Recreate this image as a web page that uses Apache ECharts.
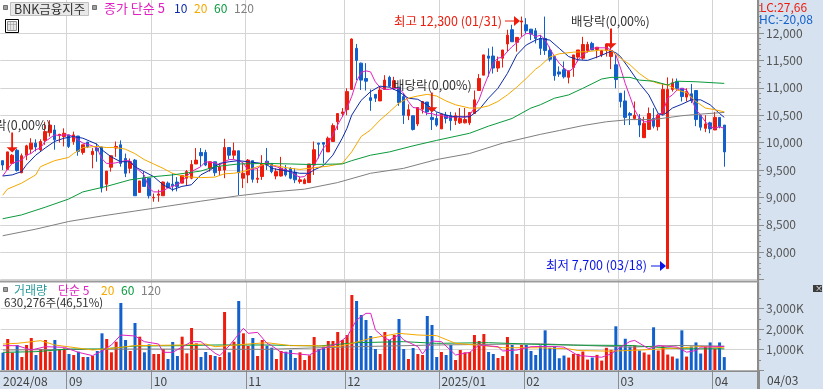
<!DOCTYPE html>
<html>
<head>
<meta charset="utf-8">
<title>BNK금융지주</title>
<style>
html, body { margin: 0; padding: 0; background: #fff; }
#chart { width: 823px; height: 389px; }
</style>
<script src="https://cdn.jsdelivr.net/npm/echarts@6/dist/echarts.min.js"></script>
</head>
<body>
<div id="chart"></div>
<script>
// daily prices (10 rows per line)
var opens = [
 9670,9510,9620,9860,9450,9770,9880,9990,9870,10040,
 10180,10230,10130,10110,10140,10020,10120,9820,10010,9780,
 9900,9920,9240,9550,9900,9960,9710,9530,9680,9090,
 9350,9350,8990,9040,9030,9260,9240,9280,9260,9350,
 9350,9610,9820,9820,9530,9650,9490,9500,9910,9770,
 9850,9350,9410,9670,9330,9380,9660,9620,9390,9390,
 9520,9530,9460,9290,9250,9270,9590,9990,10000,9830,
 10020,10380,10530,10600,10970,11720,11450,11170,10820,10880,
 10760,10970,11190,11000,11010,10840,10490,10490,10340,10610,
 10740,10460,10440,10250,10500,10490,10400,10360,10360,10360,
 10530,10950,11230,11580,11580,11360,11540,11800,12060,11830,
 12200,12150,12070,12040,11900,11900,11680,11570,11290,11330,
 11190,11370,11560,11540,11680,11810,11700,11600,11680,11570,
 11420,10900,10760,10530,10440,10440,10090,10240,10440,10290,
 10530,7700,10970,11110,10990,10830,10890,10950,10500,10260,
 10360,10230,10460,10320
];
var closes = [
 9590,9830,9770,9490,9760,9940,9990,9920,10020,10200,
 10320,10050,10150,10170,9930,10140,9840,9960,9920,9840,
 9850,9170,9480,9760,9930,9620,9440,9650,9030,9300,
 9200,9030,9000,9060,9280,9180,9210,9200,9400,9470,
 9600,9680,9760,9590,9650,9450,9560,9910,9770,9850,
 9450,9440,9680,9330,9350,9610,9590,9470,9470,9530,
 9410,9350,9320,9320,9320,9610,9870,9970,9970,10080,
 10310,10530,10560,10930,11890,11500,11140,11120,10770,10810,
 10960,11140,11030,11130,10730,10500,10600,10240,10640,10750,
 10560,10420,10320,10520,10440,10400,10490,10440,10420,10550,
 10780,11170,11600,11540,11360,11480,11690,11960,11840,11920,
 12220,12040,11980,11900,11720,11680,11520,11220,11250,11200,
 11310,11600,11690,11790,11790,11690,11740,11680,11800,11680,
 11150,10750,10460,10500,10500,10320,10350,10530,10300,10500,
 10970,10970,11090,10990,10840,10930,10770,10420,10280,10340,
 10250,10460,10290,9830
];
var lows = [
 9500,9510,9610,9470,9440,9680,9800,9840,9840,9960,
 10110,9870,10000,9930,9900,9960,9760,9780,9900,9530,
 9650,9090,9120,9470,9740,9560,9370,9440,9030,9090,
 9200,8980,8920,8920,9030,9170,9110,9110,9260,9210,
 9330,9610,9560,9570,9470,9390,9410,9350,9700,9700,
 9040,9170,9260,9270,9260,9320,9500,9440,9330,9380,
 9380,9330,9260,9250,9250,9270,9410,9710,9620,9830,
 10020,10230,10470,10500,10970,11140,10960,10950,10580,10740,
 10760,10960,11010,10960,10670,10340,10410,10220,10300,10530,
 10500,10230,10290,10250,10350,10220,10320,10340,10350,10320,
 10530,10950,11230,11200,11260,11290,11370,11660,11840,11660,
 11930,11990,11870,11810,11600,11600,11480,11130,11200,11170,
 11080,11200,11480,11510,11640,11690,11540,11560,11570,11340,
 10990,10640,10320,10320,10410,10100,10090,10230,10260,10220,
 10500,7700,10930,10950,10750,10750,10720,10300,10220,10190,
 10170,10230,10260,9560
];
var highs = [
 9670,9830,9790,9890,9800,9960,10080,10060,10060,10380,
 10410,10320,10160,10260,10140,10200,10120,9960,10010,9900,
 9980,9920,9480,9760,10020,10040,9800,9710,9700,9300,
 9470,9350,9070,9140,9290,9290,9440,9370,9400,9500,
 9680,9900,9900,9870,9650,9650,9620,10070,9910,10000,
 9850,9620,9700,9670,9530,9770,9900,9620,9530,9740,
 9590,9550,9530,9380,9350,9610,10020,9990,10000,10110,
 10350,10530,10630,10990,11900,11800,11460,11450,10970,10880,
 11030,11230,11220,11200,11010,10900,10700,10490,10640,10750,
 10740,10570,10550,10520,10560,10560,10550,10630,10630,10550,
 10950,11250,11600,11720,11750,11570,11690,12060,12150,11920,
 12300,12270,12070,12090,11960,12300,11750,11570,11390,11480,
 11310,11600,11690,11930,11840,11840,11740,11680,11800,12070,
 11600,10900,10950,10560,10750,10520,10470,10640,10630,10530,
 11080,11190,11170,11170,10990,10990,11070,10950,10500,10500,
 10380,10560,10460,10320
];
var volumes = [
 845,1512,845,1220,634,1220,1560,730,1024,1463,
 894,1463,975,1057,780,730,894,634,634,683,
 927,1790,1512,862,1382,3268,1463,927,2293,1626,
 862,1252,780,780,1024,537,1366,683,1626,813,
 2049,1300,634,878,730,683,634,2829,862,1382,
 3366,1789,1170,1561,683,1463,1187,1089,537,927,
 894,976,585,862,488,715,1610,1024,1138,1415,
 1415,1854,1463,1707,3659,3366,2683,2439,1659,1024,
 780,1854,1463,1707,2488,1024,537,1073,780,732,
 2634,2195,634,878,732,1220,488,976,862,878,
 1707,1415,1756,878,780,585,683,1610,1220,780,
 1220,1220,927,732,1197,1935,1082,1148,574,705,
 607,787,787,902,508,607,738,459,1082,984,
 2132,1148,1525,1148,1197,951,853,754,2083,951,
 1164,754,656,558,1935,656,1148,1345,804,1148,
 1345,1033,1345,630
];

// moving average vertices: [bar index, value]
var ma5 = [[0,9390],[1,9510],[2,9620],[3,9650],[4,9680],[5,9770],[6,9800],[7,9870],[8,9900],[9,10020],[10,10080],[11,10140],[12,10130],[13,10140],[14,10140],[15,10110],[16,10050],[17,9990],[18,9970],[19,9940],[20,9900],[21,9710],[22,9620],[23,9620],[24,9630],[25,9650],[26,9670],[27,9670],[28,9560],[30,9410],[31,9170],[32,9100],[33,9100],[34,9120],[35,9170],[37,9230],[38,9290],[40,9470],[42,9560],[43,9650],[44,9640],[45,9630],[46,9590],[47,9650],[48,9690],[49,9690],[50,9670],[51,9630],[52,9500],[53,9510],[54,9530],[55,9590],[56,9650],[57,9580],[58,9560],[59,9530],[61,9470],[62,9410],[63,9370],[64,9380],[65,9470],[66,9580],[67,9740],[68,9900],[69,9990],[70,10140],[71,10320],[72,10470],[73,10630],[74,10840],[75,11110],[76,11280],[77,11310],[78,11290],[79,11110],[80,11010],[81,10970],[82,10970],[83,10990],[84,10990],[85,10900],[86,10750],[87,10640],[88,10630],[89,10580],[90,10530],[91,10530],[92,10500],[93,10500],[94,10470],[95,10460],[96,10470],[97,10470],[98,10460],[99,10500],[100,10630],[101,10780],[102,11020],[103,11230],[104,11450],[105,11540],[106,11560],[107,11660],[108,11750],[109,11820],[110,11930],[111,11990],[112,11990],[113,11930],[114,11960],[115,11880],[116,11720],[117,11570],[118,11450],[119,11360],[120,11290],[121,11360],[122,11510],[123,11600],[124,11660],[125,11720],[126,11730],[128,11730],[129,11690],[130,11600],[131,11360],[132,11080],[133,10840],[134,10600],[135,10440],[136,10380],[137,10380],[138,10410],[139,10500],[140,10560],[141,10810],[142,10870],[143,10960],[144,10990],[145,10960],[146,10810],[147,10600],[148,10500],[149,10380],[150,10290],[151,10260],[152,10290],[153,10260]];
var ma10 = [[0,9390],[2,9410],[4,9470],[5,9590],[7,9770],[9,9900],[11,10020],[13,10080],[15,10110],[17,10080],[20,9970],[21,9870],[23,9740],[25,9650],[27,9650],[28,9560],[30,9470],[32,9380],[34,9230],[36,9140],[38,9200],[40,9230],[42,9410],[44,9500],[46,9620],[48,9650],[50,9670],[52,9650],[55,9620],[56,9600],[57,9530],[59,9500],[61,9470],[63,9440],[65,9440],[66,9500],[68,9580],[70,9770],[72,10080],[73,10260],[74,10500],[76,10770],[78,10930],[80,11030],[82,11010],[84,10930],[86,10810],[88,10790],[90,10690],[92,10560],[94,10500],[96,10470],[99,10470],[101,10600],[103,10810],[105,10990],[107,11260],[109,11600],[111,11780],[113,11870],[114,11900],[116,11870],[118,11720],[120,11570],[122,11510],[124,11500],[126,11560],[128,11630],[129,11670],[130,11640],[131,11570],[133,11330],[135,11080],[137,10870],[139,10530],[140,10500],[141,10560],[142,10630],[144,10700],[146,10780],[148,10780],[150,10690],[152,10530],[153,10460]];
var ma20 = [[0,9040],[1,9150],[4,9260],[7,9410],[8,9560],[11,9670],[14,9730],[15,9800],[16,9850],[17,9910],[20,9930],[22,9910],[24,9910],[26,9880],[28,9800],[30,9690],[32,9610],[34,9530],[36,9440],[38,9390],[40,9370],[42,9360],[45,9370],[47,9430],[49,9440],[51,9470],[53,9530],[56,9620],[57,9590],[61,9530],[63,9510],[65,9530],[69,9570],[72,9620],[74,9830],[76,10110],[78,10230],[80,10410],[82,10560],[84,10720],[86,10810],[88,10850],[90,10880],[92,10850],[94,10760],[96,10690],[99,10630],[101,10630],[103,10670],[105,10750],[107,10870],[109,11010],[111,11170],[113,11340],[114,11400],[116,11560],[118,11620],[121,11650],[124,11660],[127,11690],[129,11680],[131,11540],[133,11420],[135,11260],[137,11140],[139,11080],[141,11050],[143,10960],[145,10910],[147,10750],[149,10630],[151,10600],[153,10560]];
var ma60 = [[0,8610],[4,8680],[9,8820],[14,8970],[17,9100],[22,9200],[27,9320],[31,9370],[36,9410],[42,9480],[45,9560],[50,9610],[56,9620],[61,9610],[65,9600],[72,9610],[74,9670],[78,9770],[82,9830],[87,9940],[92,10040],[99,10170],[103,10300],[108,10440],[112,10630],[114,10690],[117,10810],[120,10870],[123,10990],[127,11160],[129,11190],[133,11190],[135,11140],[138,11120],[141,11050],[143,11120],[147,11110],[153,11080]];
var ma120 = [[0,8300],[7,8420],[14,8560],[21,8660],[28,8750],[35,8840],[42,8930],[50,9030],[56,9090],[64,9150],[71,9270],[78,9440],[85,9530],[92,9690],[99,9800],[106,9990],[114,10150],[118,10220],[123,10310],[128,10380],[133,10420],[138,10420],[144,10490],[148,10520],[153,10550]];
var volMa5 = [[0,1187],[3,1187],[6,976],[9,1138],[13,1106],[16,862],[19,699],[21,927],[23,1220],[25,1707],[28,1659],[30,1382],[33,1268],[34,862],[36,862],[40,1382],[42,1382],[45,813],[46,699],[48,1187],[51,2033],[52,1789],[54,1837],[56,1301],[57,1187],[59,862],[61,813],[65,732],[67,976],[71,1301],[73,1626],[75,2439],[77,2764],[78,2764],[79,1951],[81,1545],[82,1463],[84,1707],[85,1463],[88,1138],[89,780],[91,1415],[93,1382],[96,732],[99,862],[101,1220],[105,1138],[106,927],[109,976],[112,1138],[114,1148],[117,1148],[119,1115],[122,705],[127,623],[129,787],[131,1115],[133,1394],[134,1443],[137,1033],[139,1197],[143,1115],[145,869],[147,951],[148,1115],[153,1148]];
var volMa20 = [[0,1268],[3,1301],[8,1431],[11,1220],[19,976],[23,1057],[28,1187],[38,1220],[43,1268],[45,1138],[52,1268],[56,1333],[61,1187],[66,1187],[71,1138],[74,1301],[78,1545],[84,1789],[88,1707],[92,1675],[96,1301],[102,1187],[106,1089],[114,1082],[120,1033],[122,951],[129,918],[136,984],[144,1082],[148,1148],[153,1082]];
var volMa60 = [[0,862],[7,894],[14,1024],[21,1024],[28,1171],[38,1187],[45,1220],[56,1220],[67,1171],[75,1333],[85,1382],[92,1301],[103,1333],[114,1246],[121,1214],[133,1197],[144,1033],[153,1033]];
var volMa120 = [[0,976],[28,1024],[56,1008],[75,1138],[92,1220],[114,1279],[133,1115],[143,1197],[153,1164]];

// x axis: 161 slots (the last few are left empty), month labels at the first bar of each month
var monthStarts = [0, 14, 32, 52, 73, 93, 111, 131, 151];
var monthLabels = ['2024/08', '09', '10', '11', '12', '2025/01', '02', '03', '04'];
var slotCount = 161;

var priceTicks = [7500, 8000, 8500, 9000, 9500, 10000, 10500, 11000, 11500, 12000];
var priceLabels = [8000, 8500, 9000, 9500, 10000, 10500, 11000, 11500, 12000];
var volumeTicks = [0, 1000, 2000, 3000];
var volumeLabels = [1000, 2000, 3000];

var RED = '#ee1c0c', BLUE = '#1260cc', PINK = '#e020c0', NAVY = '#0c2aa8', ORANGE = '#f5a800', GREEN = '#0a9a3c', GRAY = '#808080';
var GRID = '#d4d4d4', PANEL = '#d6e2f0', FONT = '"Noto Sans CJK KR", sans-serif';

var categories = [];
for (var i = 0; i < slotCount; i++) {
	var m = monthStarts.indexOf(i);
	categories.push(m >= 0 ? monthLabels[m] : '');
}

var candleData = opens.map(function(o, i) {
	return [o, closes[i], lows[i], highs[i]];
});
var volumeData = volumes.map(function(v, i) {
	return { value : v, itemStyle : { color : closes[i] >= opens[i] ? RED : BLUE } };
});

function isMonthStart(index) {
	return monthStarts.indexOf(index) >= 0;
}

function minorTicks(from, to, step) {
	var list = [];
	for (var v = from; v <= to; v += step) {
		list.push(v);
	}
	return list;
}

function lineSeries(name, data, color, xIndex, yIndex) {
	return {
		name : name,
		type : 'line',
		data : data,
		xAxisIndex : xIndex,
		yAxisIndex : yIndex,
		symbol : 'none',
		animation : false,
		silent : true,
		z : 4,
		lineStyle : { color : color, width : 1 }
	};
}

function txt(x, y, text, color, size) {
	return {
		type : 'text',
		z : 100,
		style : {
			x : x, y : y, text : text, fill : color,
			font : (size || 12) + 'px ' + FONT,
			textVerticalAlign : 'middle'
		}
	};
}

function rect(x, y, w, h, fill, stroke, z) {
	return {
		type : 'rect',
		z : z === undefined ? 100 : z,
		shape : { x : x, y : y, width : w, height : h },
		style : { fill : fill, stroke : stroke || null, lineWidth : 1 }
	};
}

function arrow(x1, x2, y, color) {
	return [
		rect(x1, y - 0.5, x2 - x1 - 5, 1, color, null),
		{
			type : 'polygon', z : 100,
			shape : { points : [[x2 - 6, y - 5], [x2, y], [x2 - 6, y + 5]] },
			style : { fill : color }
		}
	];
}

var DIVIDEND = 'path://M5,0 L7,0 L7,14 L12,14 L6,19 L0,14 L5,14 Z';

var graphics = [
	rect(758, 0, 65, 389, PANEL, null, -10),
	rect(0, 371, 758, 18, PANEL, null, -10),
	rect(757, 0, 2, 389, '#8c8c8c', null, 50),
	rect(0, 280.5, 758, 2, '#9a9a9a', null, 50),
	rect(0, 370.5, 758, 1.5, '#8c8c8c', null, 50),

	// price panel legend
	rect(3.5, 5.5, 4, 4, '#a0a0a0', '#707070'),
	rect(10.5, 2.5, 78, 13, '#e8e8e8', '#c0c0c0'),
	txt(14, 9, 'BNK금융지주', '#333333', 12.5),
	rect(92.5, 5.5, 4, 4, '#a0a0a0', '#707070'),
	txt(104, 8, '종가 단순 5', PINK, 13),
	txt(174, 8, '10', NAVY, 12),
	txt(194, 8, '20', ORANGE, 12),
	txt(214, 8, '60', GREEN, 12),
	txt(234, 8, '120', GRAY, 12),

	// little table icon
	rect(5.5, 19.5, 13, 13, '#ffffff', '#000000'),
	rect(7.5, 21.5, 9, 9, '#e4e4e4', '#909090'),
	rect(10.5, 21.5, 0.5, 9, '#909090', null),
	rect(13.5, 21.5, 0.5, 9, '#909090', null),
	rect(7.5, 24.5, 9, 0.5, '#909090', null),

	// annotations
	txt(-28, 125, '배당락(0,00%)', '#333333', 12.5),
	txt(393, 85, '배당락(0,00%)', '#333333', 12.5),
	txt(571, 21, '배당락(0,00%)', '#333333', 12.5),
	txt(394, 21, '최고 12,300 (01/31)', RED, 12.5),
	txt(546, 265, '최저 7,700 (03/18)', '#0a14e6', 12.5),

	// right hand panel
	txt(760, 7, 'LC:27,66', RED, 12),
	txt(759, 19, 'HC:-20,08', BLUE, 12),
	txt(767, 380, '04/03', '#444444', 12),
	rect(813, 285, 9, 7, '#3c3c3c', null),
	txt(815, 288, '×', '#ffffff', 8),

	// volume panel legend
	rect(3.5, 287.5, 4, 4, '#a0a0a0', '#707070'),
	txt(14, 290, '거래량', '#2a9a9a', 12),
	txt(58, 290, '단순 5', PINK, 12),
	txt(101, 290, '20', ORANGE, 12),
	txt(121, 290, '60', GREEN, 12),
	txt(141, 290, '120', GRAY, 12),
	txt(4, 303, '630,276주(46,51%)', '#333333', 11.5)
].concat(arrow(505, 520, 21, RED), arrow(651, 666, 266, '#0a14e6'));

function splitX(show) {
	return {
		show : show,
		interval : function(index) { return isMonthStart(index) && index > 0; },
		lineStyle : { color : GRID, width : 1 }
	};
}

var option = {
	animation : false,
	backgroundColor : '#ffffff',
	textStyle : { fontFamily : FONT },
	graphic : graphics,
	grid : [
		{ left : 0.34, top : 0, width : 759.3, height : 281 },
		{ left : 0.34, top : 282, width : 759.3, height : 88 }
	],
	xAxis : [
		{
			type : 'category', gridIndex : 0, data : categories, boundaryGap : true,
			axisLine : { show : false }, axisTick : { show : false }, axisLabel : { show : false },
			splitLine : splitX(true)
		},
		{
			type : 'category', gridIndex : 1, data : categories, boundaryGap : true,
			axisLine : { show : false },
			axisTick : {
				show : true, length : 19, interval : function(index) { return isMonthStart(index) && index > 0; },
				lineStyle : { color : '#8c8c8c', width : 1 }
			},
			axisLabel : {
				show : true, interval : 0, align : 'left', margin : 5, color : '#444444', fontSize : 12, fontFamily : FONT,
				hideOverlap : false
			},
			splitLine : splitX(true)
		}
	],
	yAxis : [
		{
			type : 'value', gridIndex : 0, position : 'right', offset : -1.6, min : 7474, max : 12602, scale : true,
			axisLine : { show : false },
			axisTick : { show : true, length : 6, customValues : priceTicks, lineStyle : { color : '#8c8c8c' } },
			axisLabel : {
				show : true, customValues : priceLabels, margin : 8, color : '#555555', fontSize : 12, fontFamily : FONT,
				formatter : function(v) { return v.toLocaleString('en-US'); }
			},
			splitLine : { show : true, lineStyle : { color : GRID, width : 1 } }
		},
		{
			type : 'value', gridIndex : 0, position : 'right', offset : -1.6, min : 7474, max : 12602, scale : true,
			axisLine : { show : false }, axisLabel : { show : false }, splitLine : { show : false },
			axisTick : { show : true, length : 3, customValues : minorTicks(7500, 12500, 100), lineStyle : { color : '#8c8c8c' } }
		},
		{
			type : 'value', gridIndex : 1, position : 'right', offset : -1.6, min : 0, max : 4293,
			axisLine : { show : false },
			axisTick : { show : true, length : 6, customValues : volumeTicks, lineStyle : { color : '#8c8c8c' } },
			axisLabel : {
				show : true, customValues : volumeLabels, margin : 8, color : '#555555', fontSize : 12, fontFamily : FONT,
				formatter : function(v) { return v.toLocaleString('en-US') + 'K'; }
			},
			splitLine : { show : true, lineStyle : { color : GRID, width : 1 } }
		},
		{
			type : 'value', gridIndex : 1, position : 'right', offset : -1.6, min : 0, max : 4293,
			axisLine : { show : false }, axisLabel : { show : false }, splitLine : { show : false },
			axisTick : { show : true, length : 3, customValues : minorTicks(0, 3500, 500), lineStyle : { color : '#8c8c8c' } }
		}
	],
	series : [
		{
			name : '주가',
			type : 'candlestick',
			data : candleData,
			xAxisIndex : 0,
			yAxisIndex : 0,
			barWidth : 3,
			z : 3,
			itemStyle : { color : RED, color0 : BLUE, borderColor : RED, borderColor0 : BLUE, borderWidth : 1 },
			markPoint : {
				silent : true,
				z : 6,
				symbol : DIVIDEND,
				symbolSize : [11, 20],
				itemStyle : { color : RED },
				label : { show : false },
				data : [
					{ coord : [2, 10002] },
					{ coord : [91, 10732] },
					{ coord : [129, 11900] }
				]
			}
		},
		lineSeries('5', ma5, PINK, 0, 0),
		lineSeries('10', ma10, NAVY, 0, 0),
		lineSeries('20', ma20, ORANGE, 0, 0),
		lineSeries('60', ma60, GREEN, 0, 0),
		lineSeries('120', ma120, GRAY, 0, 0),
		{
			name : '거래량',
			type : 'bar',
			data : volumeData,
			xAxisIndex : 1,
			yAxisIndex : 2,
			barWidth : 3,
			z : 3
		},
		lineSeries('v120', volMa120, GRAY, 1, 2),
		lineSeries('v60', volMa60, GREEN, 1, 2),
		lineSeries('v20', volMa20, ORANGE, 1, 2),
		lineSeries('v5', volMa5, PINK, 1, 2)
	]
};

var chart = echarts.init(document.getElementById('chart'), null, { renderer : 'canvas' });
chart.setOption(option);
</script>
</body>
</html>
